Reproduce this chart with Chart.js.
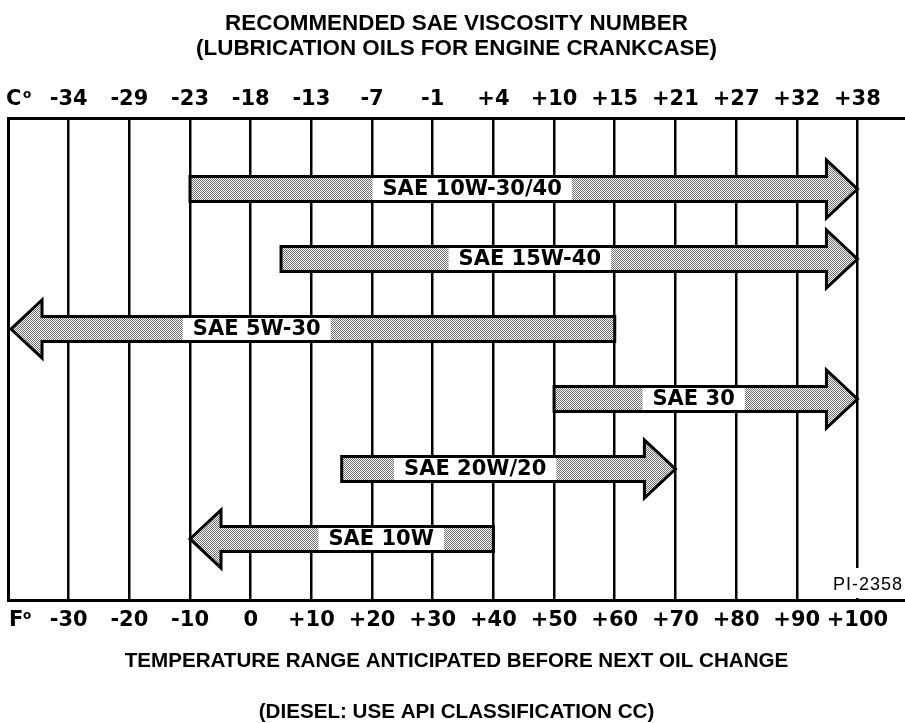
<!DOCTYPE html>
<html>
<head>
<meta charset="utf-8">
<script src="https://cdn.jsdelivr.net/npm/chart.js@4"></script>
<style>
html, body { margin: 0; padding: 0; background: #fff; }
#wrap { width: 905px; height: 723px; }
</style>
</head>
<body>
<div id="wrap"><canvas id="oilcanvas"></canvas></div>
<script>
var oils = ['SAE 10W-30/40', 'SAE 15W-40', 'SAE 5W-30', 'SAE 30', 'SAE 20W/20', 'SAE 10W'];
var lowF = [-10, 5, -39.5, 50, 15, -10];
var highF = [100, 100, 60, 100, 70, 40];
var pointsTo = ['right', 'right', 'left', 'right', 'right', 'left'];
var labelAtF = [36.5, 46, 1, 73, 37, 21.5];
var fTicks = [-30, -20, -10, 0, 10, 20, 30, 40, 50, 60, 70, 80, 90, 100];
var fLabels = ['-30', '-20', '-10', '0', '+10', '+20', '+30', '+40', '+50', '+60', '+70', '+80', '+90', '+100'];
var cLabels = ['-34', '-29', '-23', '-18', '-13', '-7', '-1', '+4', '+10', '+15', '+21', '+27', '+32', '+38'];

var tickFont = { family: '"DejaVu Sans", sans-serif', size: 21, weight: 'bold' };
var headFont = { family: '"Liberation Sans", Arial, sans-serif', weight: 'bold' };

// dotted grey fill like the printed screen tone
var tile = document.createElement('canvas');
tile.width = 2; tile.height = 2;
var tg = tile.getContext('2d');
tg.fillStyle = '#fff'; tg.fillRect(0, 0, 2, 2);
tg.fillStyle = '#6e6e6e'; tg.fillRect(0, 0, 1, 1); tg.fillRect(1, 1, 1, 1);

function setTicks(scale) {
	scale.ticks = fTicks.map(function(v) { return { value: v }; });
}

var arrowPlugin = {
	id: 'arrows',
	afterDatasetsDraw: function(chart) {
		var ctx = chart.ctx;
		var xs = chart.scales.x;
		var fill = ctx.createPattern(tile, 'repeat');
		chart.getDatasetMeta(0).data.forEach(function(bar, i) {
			var p = bar.getProps(['x', 'base', 'y'], true);
			var left = Math.min(p.x, p.base), right = Math.max(p.x, p.base), cy = p.y;
			var bh = 12.5, hh = 29, hl = 31;
			ctx.save();
			ctx.beginPath();
			if (pointsTo[i] == 'right') {
				ctx.moveTo(left, cy - bh);
				ctx.lineTo(right - hl, cy - bh);
				ctx.lineTo(right - hl, cy - hh);
				ctx.lineTo(right, cy);
				ctx.lineTo(right - hl, cy + hh);
				ctx.lineTo(right - hl, cy + bh);
				ctx.lineTo(left, cy + bh);
			} else {
				ctx.moveTo(right, cy - bh);
				ctx.lineTo(left + hl, cy - bh);
				ctx.lineTo(left + hl, cy - hh);
				ctx.lineTo(left, cy);
				ctx.lineTo(left + hl, cy + hh);
				ctx.lineTo(left + hl, cy + bh);
				ctx.lineTo(right, cy + bh);
			}
			ctx.closePath();
			ctx.fillStyle = fill;
			ctx.fill();
			ctx.lineWidth = 3;
			ctx.lineJoin = 'miter';
			ctx.strokeStyle = '#000';
			ctx.stroke();

			ctx.font = 'bold 21px "DejaVu Sans"';
			var lx = xs.getPixelForValue(labelAtF[i]);
			var w = ctx.measureText(oils[i]).width;
			ctx.fillStyle = '#fff';
			ctx.fillRect(lx - w / 2 - 10, cy - bh + 1.5, w + 20, 2 * bh - 3);
			ctx.fillStyle = '#000';
			ctx.textAlign = 'center';
			ctx.textBaseline = 'middle';
			ctx.fillText(oils[i], lx, cy + 1);
			ctx.restore();
		});
	},
	afterDraw: function(chart) {
		var ctx = chart.ctx;
		var top = chart.scales.xTop, bot = chart.scales.x, area = chart.chartArea;
		var yc = top.bottom - 6 - 12.6, yf = bot.top + 7.4 + 12.6;
		ctx.save();
		ctx.fillStyle = '#000';
		ctx.textAlign = 'left';
		ctx.textBaseline = 'middle';
		ctx.font = 'bold 21px "DejaVu Sans"';
		ctx.fillText('C', 6, yc);
		ctx.fillText('F', 9, yf);
		ctx.font = 'bold 12px "DejaVu Sans"';
		ctx.fillText('o', 23, yc - 5);
		ctx.fillText('o', 23, yf - 5);

		// drawing number in the corner
		ctx.fillStyle = '#fff';
		ctx.fillRect(826, area.bottom - 33, 79, 30);
		ctx.fillStyle = '#000';
		ctx.font = '18px "Liberation Sans"';
		ctx.letterSpacing = '1px';
		ctx.textAlign = 'right';
		ctx.fillText('PI-2358', 903, area.bottom - 16);
		ctx.restore();
	}
};

window.onload = function() {
	var ctx = document.getElementById('oilcanvas').getContext('2d');
	window.oilChart = new Chart(ctx, {
		type: 'bar',
		data: {
			labels: oils,
			datasets: [{
				label: 'Temperature range',
				data: oils.map(function(o, i) { return { x: [lowF[i], highF[i]], y: i }; }),
				backgroundColor: 'rgba(0,0,0,0)',
				borderWidth: 0,
				barThickness: 26,
				xAxisID: 'x',
				yAxisID: 'y'
			}]
		},
		options: {
			indexAxis: 'y',
			responsive: true,
			maintainAspectRatio: false,
			animation: false,
			layout: { padding: { left: 8, right: 0, top: 0, bottom: 0 } },
			plugins: {
				legend: { display: false },
				tooltip: { enabled: false },
				title: {
					display: true,
					text: ['RECOMMENDED SAE VISCOSITY NUMBER', '(LUBRICATION OILS FOR ENGINE CRANKCASE)'],
					color: '#000',
					font: Object.assign({ size: 22.4, lineHeight: 1.13 }, headFont),
					padding: { top: 11.35, bottom: 18.85 }
				},
				subtitle: {
					display: true,
					position: 'bottom',
					text: '(DIESEL: USE API CLASSIFICATION CC)',
					color: '#000',
					font: Object.assign({ size: 20.6, lineHeight: 1.0 }, headFont),
					padding: { top: 28.3, bottom: 0 }
				}
			},
			scales: {
				x: {
					type: 'linear',
					position: 'bottom',
					min: -40,
					max: 107.84,
					afterBuildTicks: setTicks,
					ticks: {
						callback: function(v, i) { return fLabels[i]; },
						autoSkip: false,
						maxRotation: 0,
						padding: 7.4,
						color: '#000',
						font: tickFont
					},
					grid: { color: '#000', lineWidth: 2.5, drawTicks: false },
					border: { display: true, color: '#000', width: 3 },
					title: {
						display: true,
						text: 'TEMPERATURE RANGE ANTICIPATED BEFORE NEXT OIL CHANGE',
						color: '#000',
						font: Object.assign({ size: 20.6, lineHeight: 1.2 }, headFont),
						padding: { top: 8.4, bottom: 0 }
					}
				},
				xTop: {
					type: 'linear',
					position: 'top',
					min: -40,
					max: 107.84,
					afterBuildTicks: setTicks,
					ticks: {
						callback: function(v, i) { return cLabels[i]; },
						autoSkip: false,
						maxRotation: 0,
						padding: 6,
						color: '#000',
						font: tickFont
					},
					grid: { display: false, drawTicks: false },
					border: { display: true, color: '#000', width: 3 }
				},
				y: {
					type: 'linear',
					reverse: true,
					offset: false,
					min: -1.014,
					max: 5.886,
					ticks: { display: false },
					grid: { display: false, drawTicks: false },
					border: { display: true, color: '#000', width: 3 }
				}
			}
		},
		plugins: [arrowPlugin]
	});
};
</script>
</body>
</html>
